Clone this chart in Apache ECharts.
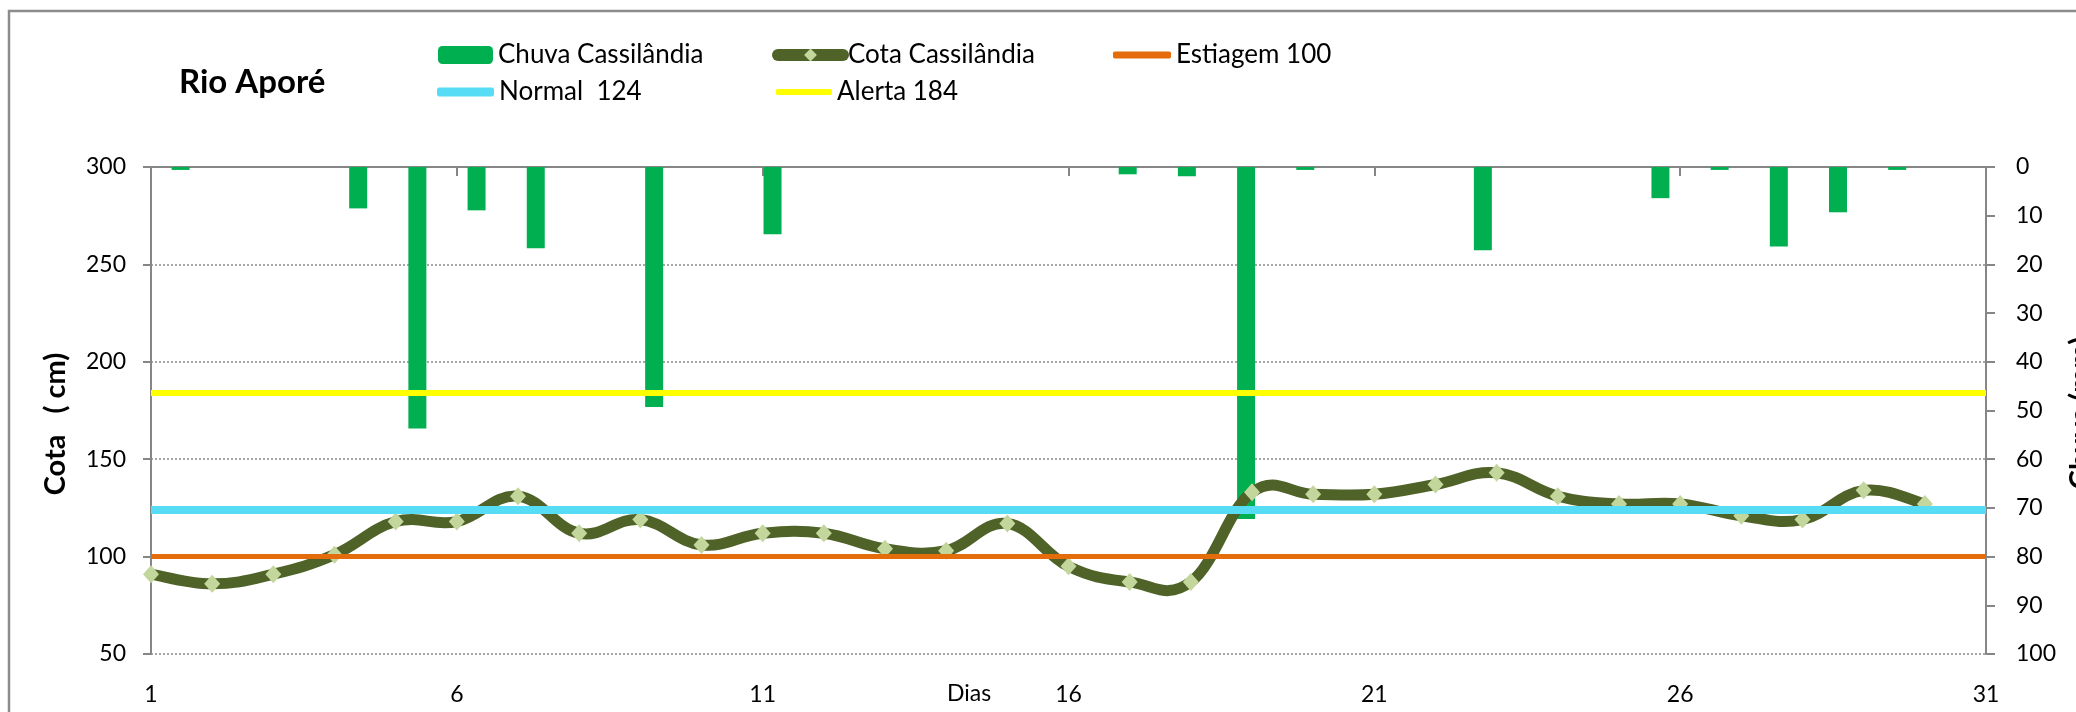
<!DOCTYPE html>
<html>
<head>
<meta charset="utf-8">
<script src="https://cdn.jsdelivr.net/npm/echarts@6/dist/echarts.min.js"></script>
<style>
html,body{margin:0;padding:0;background:#fff;}
#chart{width:2076px;height:712px;}
</style>
</head>
<body>
<div id="chart"></div>
<script>
// ---- data ----
const days = ['1','2','3','4','5','6','7','8','9','10','11','12','13','14','15','16','17','18','19','20','21','22','23','24','25','26','27','28','29','30','31'];
// rain (mm) per day, right axis (inverted)
const chuva = [0.6,0,0,8.5,53.7,8.9,16.7,0,49.3,0,13.8,0,0,0,0,0,1.5,1.9,72.3,0.6,0,0,17.1,0,0,6.4,0.6,16.3,9.3,0.6,0];
// river level (cm) per day, left axis
const cota = [91,86,91,101,118,118,131,112,119,106,112,112,104,103,117,95,87,87,133,132,132,137,143,131,127,127,121,119,134,127];
const thresholdNames = ['Estiagem 100','Normal  124','Alerta 184'];
const thresholdValues = [100,124,184];
const thresholdColors = ['#E46C0A','#57DCF5','#FFFF00'];
const thresholdWidths = [5,8,6];
const leftTicks = {min:50,max:300,interval:50};
const rightTicks = {min:0,max:100,interval:10};

const FONT = 'Lato';
const AX = '#868686';
const COTA_COLOR = '#4F6228';
const TENSION = 0.2; // Excel-like smoothed line

const chart = echarts.init(document.getElementById('chart'), null, {renderer:'canvas'});

const thresholdSeries = thresholdNames.map((n,i)=>({
  name:n, type:'line', xAxisIndex:0, yAxisIndex:0, data:[], symbol:'none', z:5+i,
  lineStyle:{color:thresholdColors[i], width:thresholdWidths[i]},
  itemStyle:{color:thresholdColors[i]},
  markLine:{silent:true, symbol:['none','none'], label:{show:false}, animation:false,
    lineStyle:{color:thresholdColors[i], width:thresholdWidths[i], type:'solid', cap:'butt'},
    emphasis:{disabled:true},
    data:[{yAxis:thresholdValues[i]}]}
}));

function cotaSegment(params, api){
  const n = cota.length;
  const i = params.dataIndex;
  if (i >= n-1) return null;
  const pt = k => { const j = Math.max(0, Math.min(n-1, k)); return api.coord([j, cota[j]]); };
  const p0 = pt(i-1), p1 = pt(i), p2 = pt(i+1), p3 = pt(i+2);
  return {
    type:'bezierCurve',
    shape:{
      x1:p1[0], y1:p1[1], x2:p2[0], y2:p2[1],
      cpx1:p1[0] + (p2[0]-p0[0])*TENSION, cpy1:p1[1] + (p2[1]-p0[1])*TENSION,
      cpx2:p2[0] - (p3[0]-p1[0])*TENSION, cpy2:p2[1] - (p3[1]-p1[1])*TENSION
    },
    style:{stroke:COTA_COLOR, lineWidth:11, fill:'none', lineCap:'round'}
  };
}

const legendBase = {padding:0, itemGap:0, selectedMode:false,
  textStyle:{fontFamily:FONT, fontSize:26, color:'#000'}};

const option = {
  animation:false,
  backgroundColor:'#fff',
  grid:{left:151, right:90, top:167, bottom:58},
  legend:[
    Object.assign({}, legendBase, {data:['Chuva Cassilândia'], left:438, top:42, itemWidth:55, itemHeight:18}),
    Object.assign({}, legendBase, {data:['Cota Cassilândia'], left:772, top:42, itemWidth:65, itemHeight:16,
      lineStyle:{color:COTA_COLOR, width:12, opacity:1, cap:'round'}}),
    Object.assign({}, legendBase, {data:[{name:'Estiagem 100', icon:'roundRect'}], left:1113, top:42, itemWidth:58, itemHeight:7}),
    Object.assign({}, legendBase, {data:[{name:'Normal  124', icon:'roundRect'}], left:437, top:79, itemWidth:57, itemHeight:9}),
    Object.assign({}, legendBase, {data:[{name:'Alerta 184', icon:'roundRect'}], left:776, top:79, itemWidth:56, itemHeight:6})
  ],
  xAxis:[
    {type:'category', data:days, boundaryGap:false, position:'bottom',
      axisLine:{lineStyle:{color:AX, width:2}},
      axisTick:{show:true, interval:4, length:9, lineStyle:{color:AX, width:2}},
      axisLabel:{interval:4, margin:29, fontFamily:FONT, fontSize:23, color:'#000'},
      splitLine:{show:false}},
    {type:'category', data:days, boundaryGap:true, show:false}
  ],
  yAxis:[
    {type:'value', position:'left', min:leftTicks.min, max:leftTicks.max, interval:leftTicks.interval,
      axisLine:{show:true, lineStyle:{color:AX, width:2}},
      axisTick:{show:true, length:8, lineStyle:{color:AX, width:2}},
      axisLabel:{margin:25, fontFamily:FONT, fontSize:23, color:'#000'},
      splitLine:{show:true, lineStyle:{color:'#8a8a8a', width:1.5, type:[2,2]}}},
    {type:'value', position:'right', inverse:true, min:rightTicks.min, max:rightTicks.max, interval:rightTicks.interval,
      axisLine:{show:true, lineStyle:{color:AX, width:2}},
      axisTick:{show:true, length:9, lineStyle:{color:AX, width:2}},
      axisLabel:{margin:30, fontFamily:FONT, fontSize:23, color:'#000'},
      splitLine:{show:false}}
  ],
  series:[
    {name:'Chuva Cassilândia', type:'bar', xAxisIndex:1, yAxisIndex:1, data:chuva, barWidth:18, z:1,
      itemStyle:{color:'#00B050'}},
    {name:'cotaCurve', type:'custom', xAxisIndex:0, yAxisIndex:0, z:3, silent:true,
      data:cota.map((v,i)=>[i,v]), renderItem:cotaSegment, clip:false},
    {name:'Cota Cassilândia', type:'line', xAxisIndex:0, yAxisIndex:0, data:cota, z:4,
      symbol:'diamond', symbolSize:[16,18], showSymbol:true,
      lineStyle:{color:COTA_COLOR, width:8, opacity:0},
      itemStyle:{color:'#C3D69B', borderWidth:0}},
    ...thresholdSeries
  ],
  graphic:[
    {type:'rect', silent:true, z:-1, shape:{x:9, y:11, width:2100, height:720},
      style:{fill:'none', stroke:'#8c8c8c', lineWidth:2.5}},
    {type:'text', silent:true, x:179, y:82,
      style:{text:'Rio Aporé', font:'bold 33px Lato', fill:'#000', align:'left', verticalAlign:'middle'}},
    {type:'text', silent:true, x:56, y:424, rotation:Math.PI/2,
      style:{text:'Cota   ( cm)', font:'bold 29px Lato', fill:'#000', align:'center', verticalAlign:'middle'}},
    {type:'text', silent:true, x:2081, y:413, rotation:Math.PI/2,
      style:{text:'Chuva (mm)', font:'bold 29px Lato', fill:'#000', align:'center', verticalAlign:'middle'}},
    {type:'text', silent:true, x:947, y:694,
      style:{text:'Dias', font:'23px Lato', fill:'#000', align:'left', verticalAlign:'middle'}}
  ]
};
chart.setOption(option);
</script>
</body>
</html>
